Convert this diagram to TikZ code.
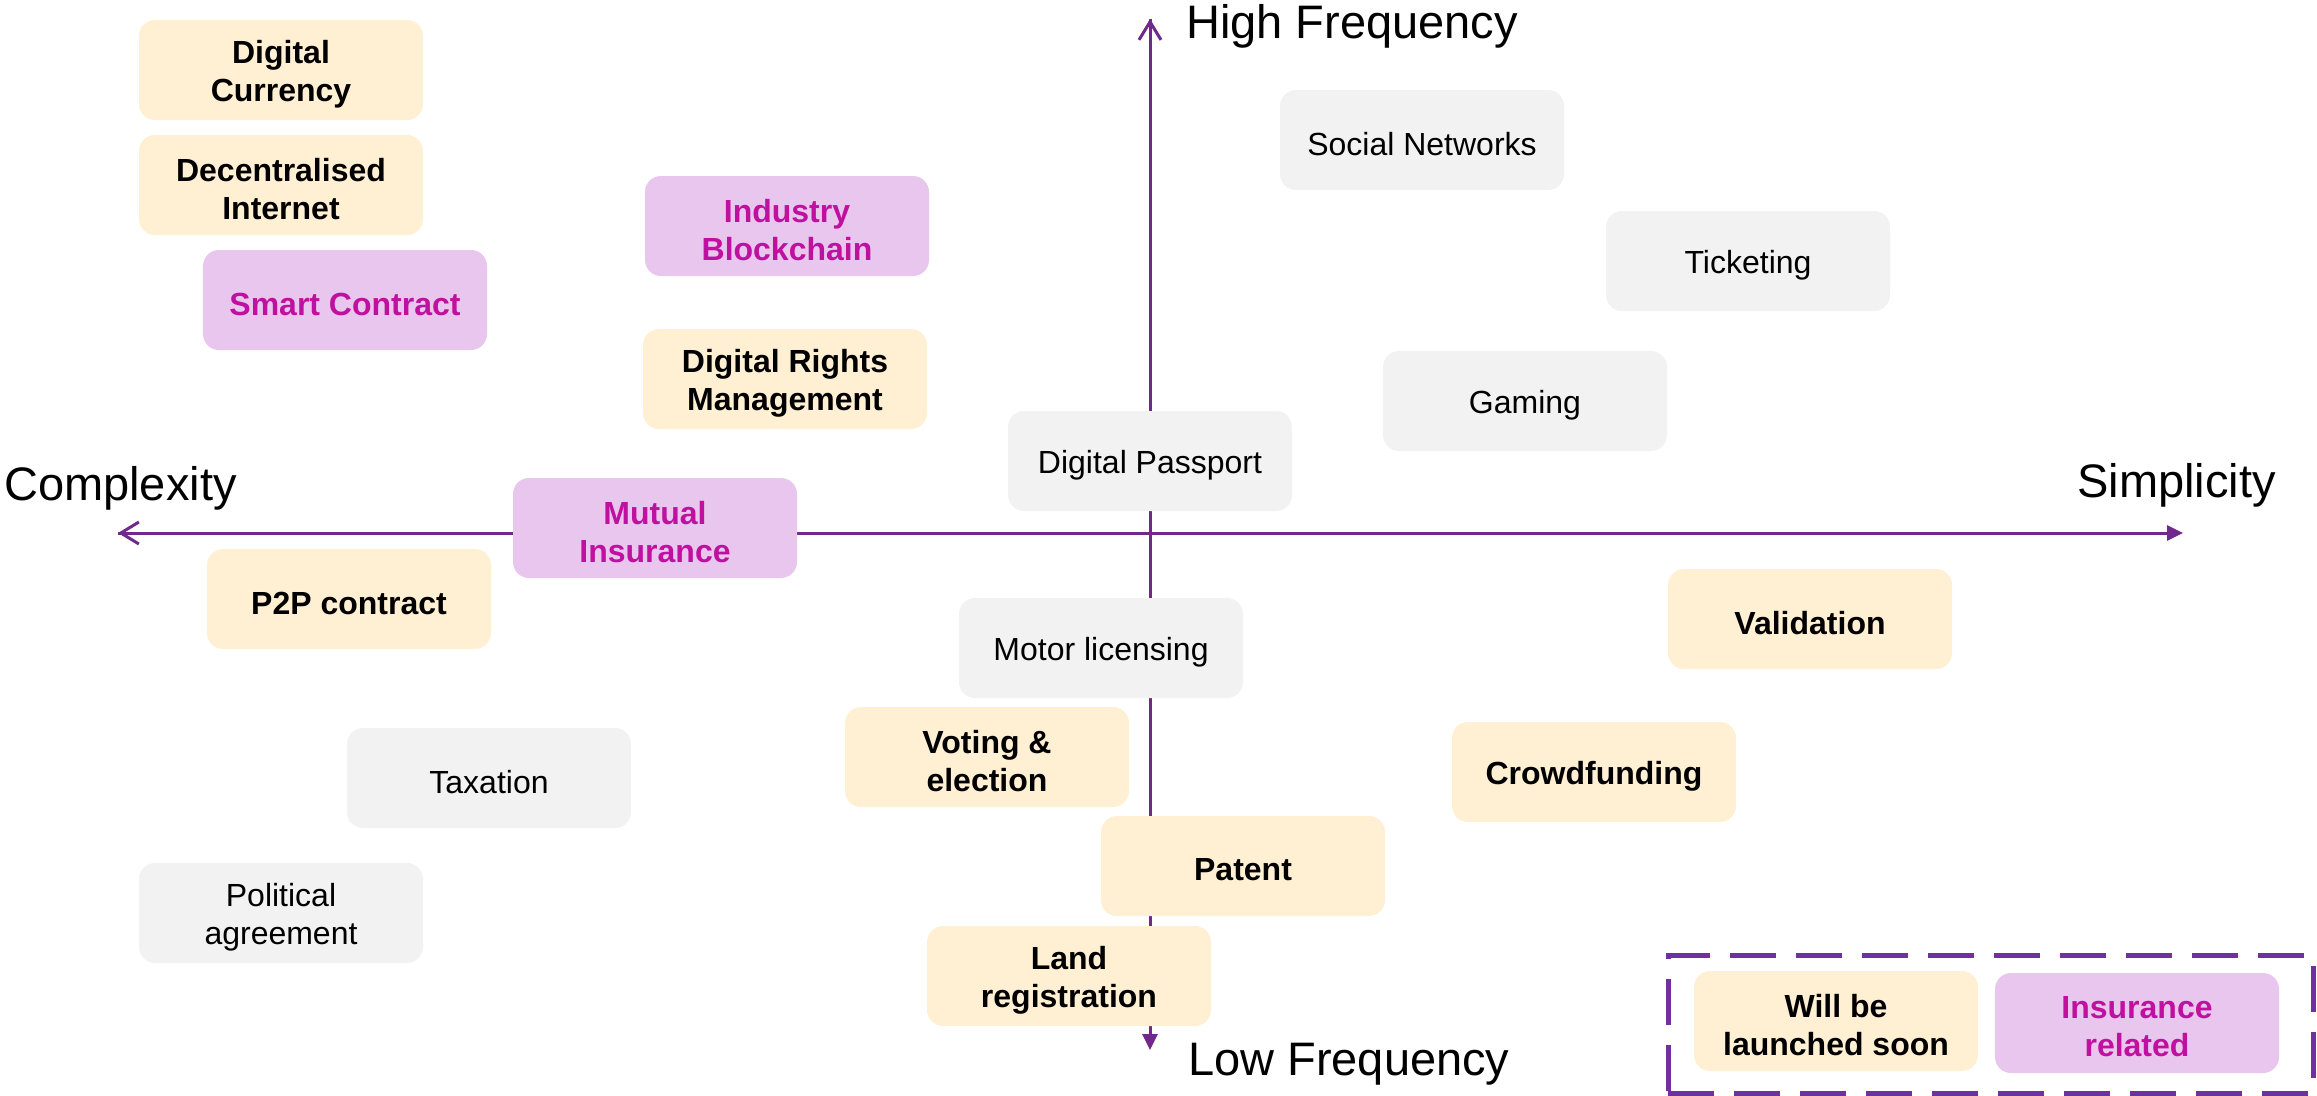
\documentclass[tikz,border=0pt]{standalone}
\usepackage{fontspec}
\setmainfont{Liberation Sans}
\usetikzlibrary{arrows.meta}
\definecolor{axiscol}{HTML}{70288C}
\definecolor{legcol}{HTML}{7030A0}
\definecolor{yel}{HTML}{FFF0D3}
\definecolor{pnk}{HTML}{E8C6EE}
\definecolor{gry}{HTML}{F2F2F2}
\definecolor{mag}{HTML}{C0109F}
\tikzset{
  box/.style={rounded corners=16pt, minimum width=284pt, minimum height=100pt, inner sep=0pt},
  txt/.style={align=center, inner sep=0pt, yshift=-4pt, font=\fontsize{32}{38}\selectfont},
  soontxt/.style={txt, font=\fontsize{32}{38}\selectfont\bfseries, text=black},
  insurtxt/.style={txt, font=\fontsize{32}{38}\selectfont\bfseries, text=mag},
  othertxt/.style={txt, text=black},
  soon/.style={box, fill=yel, label={[soontxt]center:#1}},
  insur/.style={box, fill=pnk, label={[insurtxt]center:#1}},
  other/.style={box, fill=gry, label={[othertxt]center:#1}},
  axislabel/.style={font=\fontsize{47}{50}\selectfont, inner sep=0pt},
  axisline/.style={line width=3pt, draw=axiscol},
}
\begin{document}
\begin{tikzpicture}[x=1pt,y=-1pt]
\useasboundingbox (0,0) rectangle (2317,1095);
% axes
\coordinate (O) at (1150,533);
\coordinate (L) at (118,533);
\coordinate (R) at (2183,533);
\coordinate (T) at (1150,19);
\coordinate (B) at (1150,1050);
\draw[axisline, -{Straight Barb[length=18pt,width=22pt,line width=3pt]}] (O) -- (L);
\draw[axisline, -{Triangle[length=16pt,width=15pt]}] (L) -- (R);
\draw[axisline, -{Straight Barb[length=18pt,width=22pt,line width=3pt]}] (O) -- (T);
\draw[axisline, -{Triangle[length=16pt,width=15pt]}] (T) -- (B);
% axis labels
\node[axislabel, anchor=base west] (cx) at (4,500) {Complexity};
\node[axislabel, anchor=base west] (hf) at (1186,38) {High Frequency};
\node[axislabel, anchor=base east] (sp) at (2276,497) {Simplicity};
\node[axislabel, anchor=base west] (lf) at (1188,1075) {Low Frequency};
% boxes
\node[soon={Digital\\Currency}] (dc) at (281,70) {};
\node[soon={Decentralised\\Internet}] (di) at (281,185) {};
\node[insur={Smart Contract}] (sc) at (345,300) {};
\node[insur={Industry\\Blockchain}] (ib) at (787,226) {};
\node[soon={Digital Rights\\Management}] (drm) at (785,379) {};
\node[insur={Mutual\\Insurance}] (mi) at (655,528) {};
\node[soon={P2P contract}] (p2p) at (349,599) {};
\node[other={Taxation}] (tax) at (489,778) {};
\node[other={Political\\agreement}] (pol) at (281,913) {};
\node[other={Social Networks}] (sn) at (1422,140) {};
\node[other={Ticketing}] (tick) at (1748,261) {};
\node[other={Gaming}] (gam) at (1525,401) {};
\node[other={Digital Passport}] (dp) at (1150,461) {};
\node[other={Motor licensing}] (ml) at (1101,648) {};
\node[soon={Voting \&\\election}] (vote) at (987,757) {};
\node[soon={Validation}] (val) at (1810,619) {};
\node[soon={Crowdfunding}] (crowd) at (1594,772) {};
\node[soon={Patent}] (pat) at (1243,866) {};
\node[soon={Land\\registration}] (land) at (1069,976) {};
% legend
\node[draw=legcol, line width=5pt, dash pattern=on 46pt off 20pt, minimum width=645pt, minimum height=138pt, inner sep=0pt] (leg) at (1990.5,1024) {};
\node[soon={Will be\\launched soon}] (will) at (1836,1021) {};
\node[insur={Insurance\\related}] (insr) at (2137,1023) {};
\end{tikzpicture}
\end{document}
